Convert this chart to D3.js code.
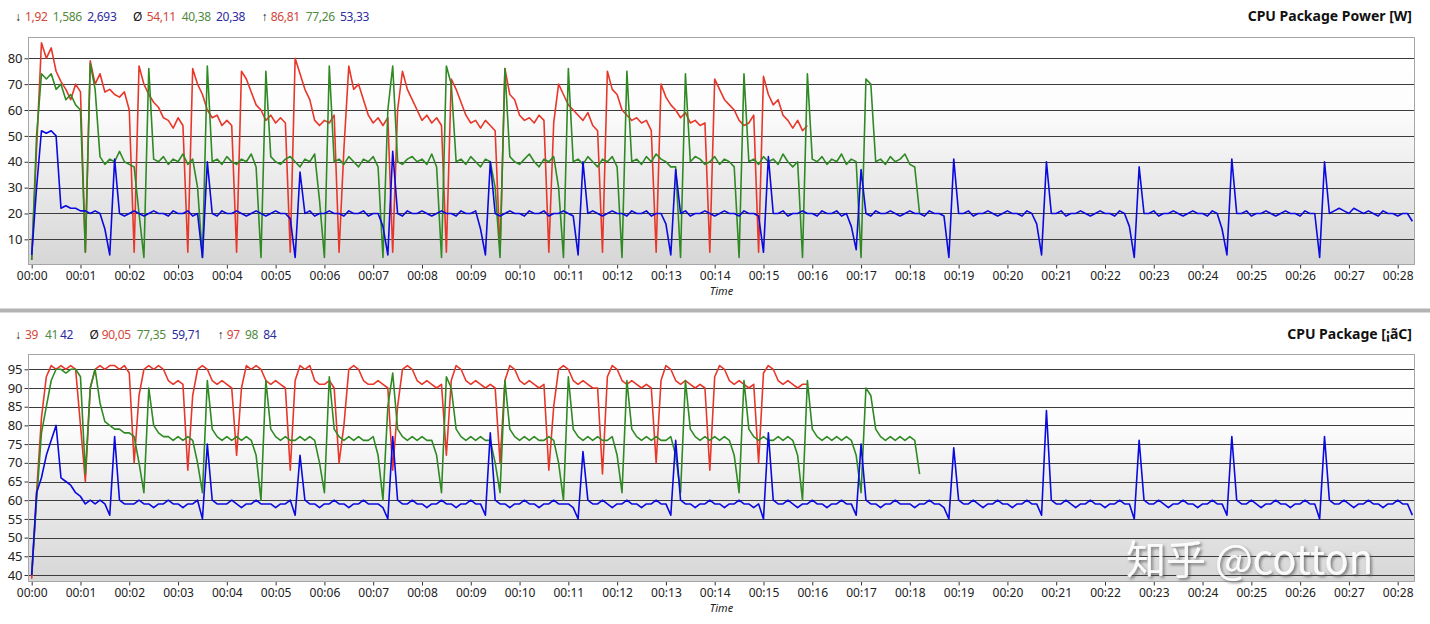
<!DOCTYPE html>
<html><head><meta charset="utf-8">
<script src="https://cdn.jsdelivr.net/npm/d3@7"></script>
<style>
html,body{margin:0;padding:0;background:#fff;}
svg{display:block;font-family:"Noto Sans",sans-serif;}
</style></head><body>
<svg id="chart" width="1430" height="624"></svg>
<script>
// ---------------- DATA ----------------
const STEP = 0.1; // minutes between samples
const timeTickLabels = ["00:00","00:01","00:02","00:03","00:04","00:05","00:06","00:07","00:08","00:09","00:10","00:11","00:12","00:13","00:14","00:15","00:16","00:17","00:18","00:19","00:20","00:21","00:22","00:23","00:24","00:25","00:26","00:27","00:28"];
const powerTicks = [10,20,30,40,50,60,70,80];
const tempTicks = [40,45,50,55,60,65,70,75,80,85,90,95];

const powerMin = ["1,92","1,586","2,693"];
const powerAvg = ["54,11","40,38","20,38"];
const powerMax = ["86,81","77,26","53,33"];
const tempMin = ["39","41","42"];
const tempAvg = ["90,05","77,35","59,71"];
const tempMax = ["97","98","84"];

const powerRed = [
2,45,86,80,84,75,71,68,64,70,
67,5,79,70,74,67,68,66,65,67,
60,5,77,70,66,63,61,57,56,53,
57,54,5,76,70,66,60,57,58,54,
56,54,5,75,72,67,62,60,56,58,
55,57,55,5,80,74,68,64,56,54,
56,55,58,5,45,77,68,70,64,58,
55,57,54,57,5,60,75,68,64,60,
56,58,55,57,54,5,72,68,63,58,
55,56,53,56,54,52,5,76,66,64,
58,56,57,55,58,56,5,55,70,66,
62,60,58,56,59,54,52,5,75,68,
66,60,58,56,57,55,56,52,5,70,
65,62,60,57,59,55,56,54,55,5,
72,68,64,62,60,56,54,55,58,5,
73,66,62,64,58,56,53,56,52,54];

const powerGreen = [
2,50,74,72,74,68,70,64,66,62,
60,5,78,68,42,39,41,40,44,40,
39,38,20,3,76,41,40,42,39,41,
40,43,39,41,30,3,77,40,41,39,
42,40,39,41,40,43,38,3,75,42,
40,39,41,42,40,38,41,40,43,25,
3,77,40,41,39,42,40,38,41,40,
42,38,3,60,77,40,39,41,42,40,
41,39,43,38,3,77,70,40,41,39,
42,40,38,41,40,30,3,76,42,40,
39,41,43,40,38,41,40,42,30,3,
76,40,41,39,42,40,38,41,40,42,
38,3,75,40,41,39,42,40,43,41,
40,38,38,3,74,40,42,41,39,40,
42,39,41,40,38,3,74,40,41,39,
42,40,41,39,43,40,38,40,3,74,
41,40,42,39,41,40,43,39,41,40,
3,72,70,40,41,39,42,40,41,43,
39,38,20];

const powerBlue = [
4,30,52,51,52,50,22,23,22,22,
21,21,20,21,20,14,4,41,20,19,
20,21,20,19,20,21,20,20,19,21,
20,20,21,19,20,3,40,20,19,21,
20,20,21,20,19,20,21,20,19,20,
21,20,20,18,3,36,20,21,19,20,
20,21,20,20,19,21,20,20,21,19,
20,20,15,4,44,20,19,21,20,20,
21,20,19,20,21,20,20,19,21,20,
20,21,14,4,40,20,19,20,21,20,
20,19,21,20,20,21,19,20,20,21,
20,19,4,40,20,21,20,19,20,21,
20,20,19,21,20,20,21,19,20,20,
16,4,37,20,21,19,20,20,21,20,
19,20,21,20,20,19,21,20,20,19,
5,42,20,20,21,19,20,20,21,20,
20,19,21,20,20,21,19,20,15,6,
37,20,19,21,20,20,21,20,19,20,
21,20,20,19,21,20,20,19,3,41,
20,20,21,19,20,20,21,20,19,20,
21,20,20,19,21,20,16,4,40,20,
20,21,19,20,20,21,20,19,20,21,
20,20,19,21,20,15,3,38,20,20,
21,19,20,20,21,20,19,20,21,20,
20,19,21,20,14,4,41,20,20,21,
19,20,20,21,20,19,20,21,20,20,
19,21,20,20,3,40,20,21,22,21,
20,22,21,20,21,20,19,21,20,20,
19,20,20,17];

const tempRed = [
39,62,82,93,96,95,96,95,96,95,
80,65,90,95,96,95,96,96,95,96,
94,70,88,95,96,95,96,95,92,91,
92,91,68,88,95,96,95,92,91,92,
91,90,72,90,96,95,96,95,92,91,
92,91,90,68,92,96,95,96,92,91,
91,92,90,70,80,95,96,95,92,91,
91,92,91,90,68,85,95,96,95,92,
91,92,91,90,91,72,92,96,95,92,
91,92,91,90,91,90,70,92,96,95,
92,91,92,91,90,91,68,85,95,96,
95,92,91,92,91,90,90,67,93,96,
95,92,91,92,91,90,91,90,70,92,
96,95,92,91,92,91,90,91,90,68,
93,96,95,92,91,92,91,90,91,70,
94,96,95,92,91,92,91,90,91,91];

const tempGreen = [
40,60,78,85,92,95,95,94,95,95,
93,67,90,95,86,81,80,79,79,78,
78,77,70,62,90,80,78,77,77,76,
77,76,77,76,70,62,92,79,77,76,
77,76,77,76,77,76,72,60,92,79,
77,76,77,76,76,77,76,77,76,70,
62,93,79,77,76,77,76,77,76,76,
77,72,60,85,94,79,77,76,77,76,
77,76,76,72,62,93,90,79,77,76,
77,76,77,76,76,70,62,92,79,77,
76,77,76,77,76,76,77,76,70,60,
93,79,77,76,77,76,77,76,76,77,
72,62,92,79,77,76,77,76,77,76,
76,77,72,62,92,79,77,76,77,76,
77,76,77,76,72,62,92,79,77,76,
77,76,76,77,76,77,76,72,60,92,
79,77,76,77,76,77,76,77,76,72,
62,90,88,79,77,76,77,76,77,76,
77,76,67];

const tempBlue = [
40,62,66,72,76,80,66,65,64,62,
61,59,60,59,60,59,56,77,60,59,
59,59,60,59,59,58,59,59,60,59,
59,58,59,59,60,55,75,60,59,59,
59,60,59,58,59,59,60,59,59,59,
58,59,59,60,56,72,60,59,59,58,
59,59,60,59,59,58,59,59,60,59,
59,59,58,55,77,60,59,59,60,59,
59,58,59,59,60,59,59,58,59,59,
60,59,59,56,78,60,59,59,58,59,
59,60,59,59,58,59,59,60,59,59,
59,58,55,73,60,59,59,60,59,58,
59,59,60,59,59,58,59,59,60,59,
59,56,76,60,59,59,58,59,59,60,
59,59,58,59,59,60,59,59,58,59,
55,78,60,59,59,60,59,58,59,59,
60,59,59,58,59,59,60,59,59,56,
75,60,59,59,58,59,59,60,59,59,
59,58,59,59,60,59,59,58,55,74,
60,59,59,60,59,58,59,59,60,59,
59,58,59,59,60,59,59,56,84,60,
59,59,60,59,58,59,59,60,59,59,
58,59,59,60,59,59,55,76,60,59,
59,60,59,58,59,59,60,59,59,58,
59,59,60,59,59,56,77,60,59,59,
60,59,58,59,59,60,59,59,58,59,
59,60,59,59,55,77,60,59,59,60,
59,58,59,59,60,59,59,58,59,59,
60,59,59,56];

// ---------------- STYLE / LAYOUT ----------------
const lineColors = ["#e8372a", "#2f8a24", "#0a0ae0"];
const textColors = ["#d2463a", "#4f8a3f", "#2c2ca0"];

const svg = d3.select("#chart");
const defs = svg.append("defs");
const grad = defs.append("linearGradient").attr("id","plotbg")
  .attr("x1",0).attr("y1",0).attr("x2",0).attr("y2",1);
grad.append("stop").attr("offset","0%").attr("stop-color","#ffffff");
grad.append("stop").attr("offset","30%").attr("stop-color","#fdfdfd");
grad.append("stop").attr("offset","60%").attr("stop-color","#ececec");
grad.append("stop").attr("offset","100%").attr("stop-color","#d6d6d6");

const shadow = defs.append("filter").attr("id","wmshadow").attr("x","-10%").attr("y","-20%").attr("width","130%").attr("height","150%");
shadow.append("feDropShadow").attr("dx",2).attr("dy",2).attr("stdDeviation",1.6)
  .attr("flood-color","#555").attr("flood-opacity",0.75);

const x = d3.scaleLinear().domain([0, 28]).range([31.7, 1397.7]);
const plotLeft = 28.5, plotRight = 1414.5;

const panels = [
  { id:"p", top:37.5, bottom:264.5, domain:[0,80], range:[265.2,58.3], ticks:powerTicks,
    series:[powerRed, powerGreen, powerBlue], stats:[powerMin, powerAvg, powerMax],
    symX:[15,133,261.5], valX:[[25,52.7,87.3],[146.7,181.7,216],[270.7,305.7,340]],
    title:"CPU Package Power [W]", headerY:20.5, timeY:295 },
  { id:"t", top:354.5, bottom:581.5, domain:[40,95], range:[575,369.3], ticks:tempTicks,
    series:[tempRed, tempGreen, tempBlue], stats:[tempMin, tempAvg, tempMax],
    symX:[15,89.5,217.5], valX:[[25,45,60],[101.7,136.7,171.7],[226.7,245,263.3]],
    title:"CPU Package [¡ãC]", headerY:338.5, timeY:612 }
];
const symbols = ["↓","Ø","↑"];

svg.append("rect").attr("x",0).attr("y",308.5).attr("width",1430).attr("height",4).attr("fill","#b3b3b3");

panels.forEach(p => {
  const y = d3.scaleLinear().domain(p.domain).range(p.range);
  const g = svg.append("g");

  g.append("rect").attr("x",plotLeft).attr("y",p.top)
    .attr("width",plotRight-plotLeft).attr("height",p.bottom-p.top)
    .attr("fill","url(#plotbg)");

  const yAxis = d3.axisLeft(y).tickValues(p.ticks).tickSize(4).tickPadding(2).tickFormat(d3.format("d"));
  const ya = g.append("g").attr("transform",`translate(${plotLeft},0)`).call(yAxis);
  ya.select(".domain").remove();
  ya.selectAll(".tick line").attr("stroke","#333");
  ya.selectAll(".tick text").attr("fill","#222").style("font-size","13px").style("font-family","Noto Sans");
  g.append("g").selectAll("line").data(p.ticks).join("line")
    .attr("x1",plotLeft).attr("x2",plotRight)
    .attr("y1",d=>Math.round(y(d))+0.5).attr("y2",d=>Math.round(y(d))+0.5)
    .attr("stroke","#3c3c3c").attr("stroke-width",1);

  const xAxis = d3.axisBottom(x).tickValues(d3.range(timeTickLabels.length))
    .tickFormat((d,i)=>timeTickLabels[i]).tickSize(4).tickPadding(3);
  const xa = g.append("g").attr("transform",`translate(0,${p.bottom})`).call(xAxis);
  xa.select(".domain").remove();
  xa.selectAll(".tick line").attr("stroke","#333");
  xa.selectAll(".tick text").attr("fill","#222").style("font-size","12px").style("font-family","Noto Sans");

  g.append("text").attr("x",(plotLeft+plotRight)/2).attr("y",p.timeY)
    .attr("text-anchor","middle").style("font-size","11px").style("font-style","italic")
    .attr("fill","#222").text("Time");

  defs.append("clipPath").attr("id","clip"+p.id).append("rect")
    .attr("x",plotLeft).attr("y",p.top).attr("width",plotRight-plotLeft).attr("height",p.bottom-p.top);

  const line = d3.line().x((d,i)=>x(i*STEP)).y(d=>y(d));
  const lg = g.append("g").attr("clip-path",`url(#clip${p.id})`);
  p.series.forEach((s,k)=>{
    lg.append("path").datum(s).attr("d",line).attr("fill","none")
      .attr("stroke",lineColors[k]).attr("stroke-width",1.6).attr("stroke-linejoin","round");
  });

  g.append("rect").attr("x",plotLeft).attr("y",p.top)
    .attr("width",plotRight-plotLeft).attr("height",p.bottom-p.top)
    .attr("fill","none").attr("stroke","#a6a6a6").attr("stroke-width",1);

  const hg = g.append("g").style("font-size","12px").style("letter-spacing","-0.3px");
  symbols.forEach((sym,gi)=>{
    hg.append("text").attr("x",p.symX[gi]).attr("y",p.headerY).attr("fill","#111").text(sym);
    p.stats[gi].forEach((v,k)=>{
      hg.append("text").attr("x",p.valX[gi][k]).attr("y",p.headerY).attr("fill",textColors[k]).text(v);
    });
  });

  g.append("text").attr("x",1412).attr("y",p.headerY).attr("text-anchor","end")
    .style("font-size","14px").style("font-weight","bold").attr("fill","#111").text(p.title);
});

svg.append("text").attr("x",1126).attr("y",574)
  .style("font-family","'Noto Sans CJK SC','Noto Sans',sans-serif").style("font-size","40px")
  .attr("fill","#ffffff").attr("fill-opacity",0.92).attr("filter","url(#wmshadow)")
  .text("知乎 @cotton");
</script>
</body></html>
